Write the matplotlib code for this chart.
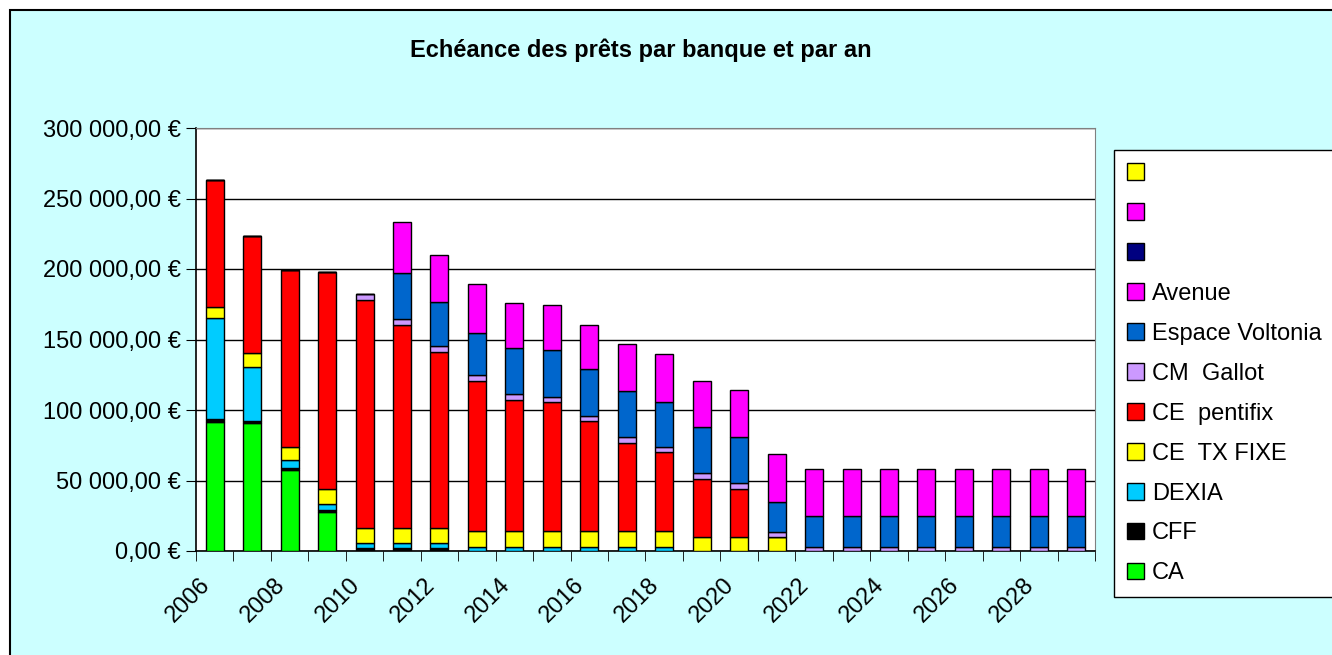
import matplotlib.pyplot as plt
import numpy as np
from matplotlib.patches import Patch, Rectangle
from matplotlib.ticker import FuncFormatter
from matplotlib.transforms import ScaledTranslation

plt.rcParams["font.family"] = ["Liberation Sans", "DejaVu Sans"]

years = list(range(2006, 2030))
year_labels = [str(y) if (y - 2006) % 2 == 0 else "" for y in years]

ca = [91250, 90500, 57400, 27400] + [0] * 20
cff = [2350, 1600, 1700, 1700, 1900, 1900, 1900] + [0] * 17
dexia = [71900, 38100, 5400, 4000, 3600, 4000, 4000, 3000, 3000, 3000,
         3000, 3000, 3000] + [0] * 11
ce_tx_fixe = [7400, 9900, 9500, 10900, 11000, 10600, 10600, 11200, 11200, 11200,
              11000, 11000, 11000, 9700, 9700, 9700] + [0] * 8
ce_pentifix = [90300, 83200, 125300, 153600, 161500, 143800, 124600, 106400,
               92900, 91200, 78000, 62600, 56000, 41300, 34300] + [0] * 9
cm_gallot = [0, 0, 0, 0, 4300, 4000, 4300, 4200, 4000, 4000, 4000, 4200,
             4000, 4100, 4000, 4000] + [3000] * 8
espace_voltonia = [0] * 5 + [32900, 31400, 30000, 32600, 33100, 32900, 32900,
                             31500, 32600, 32800, 20800] + [21800] * 8
avenue = [0] * 5 + [35900, 32900, 34300, 32000, 31700, 31400, 32900, 34400,
                    32900, 33200, 34100] + [33400] * 8

series = [
    ("CA", ca, "#00FF00"),
    ("CFF", cff, "#000000"),
    ("DEXIA", dexia, "#00CCFF"),
    ("CE  TX FIXE", ce_tx_fixe, "#FFFF00"),
    ("CE  pentifix", ce_pentifix, "#FF0000"),
    ("CM  Gallot", cm_gallot, "#CC99FF"),
    ("Espace Voltonia", espace_voltonia, "#0066CC"),
    ("Avenue", avenue, "#FF00FF"),
]
# empty series shown only in the legend
blank_colors = ["#000080", "#FF00FF", "#FFFF00"]

FS = 17


def euro(v, _pos):
    s = f"{v:,.2f}".replace(",", " ").replace(".", ",")
    return s + " €"


fig = plt.figure(figsize=(13.32, 6.55), dpi=100)
fig.patch.set_facecolor("white")
# chart area (cyan panel with black frame, running off the right/bottom edge)
fig.patches.append(Rectangle((10 / 1332, -0.1), 1.2, 1.1 - 10 / 655,
                             transform=fig.transFigure, facecolor="#CCFFFF",
                             edgecolor="black", lw=1.5, zorder=-10))

ax = fig.add_axes([196 / 1332, 104 / 655, 899 / 1332, 423 / 655])
ax.set_facecolor("white")

x = np.arange(len(years))
bottom = np.zeros(len(years))
handles = []
for name, vals, col in series:
    vals = np.array(vals, dtype=float)
    ax.bar(x, vals, 0.48, bottom=bottom, color=col, edgecolor="black",
           linewidth=1, zorder=3)
    bottom += vals
    handles.append(Patch(facecolor=col, edgecolor="black", label=name))

ax.set_xlim(-0.5, len(years) - 0.5)
ax.set_ylim(0, 300000)
ax.set_yticks(np.arange(0, 300001, 50000))
ax.yaxis.set_major_formatter(FuncFormatter(euro))
ax.grid(axis="y", color="black", lw=1, zorder=0)
ax.tick_params(axis="y", direction="out", length=7, labelsize=FS, pad=4)

ax.set_xticks(x[::2], year_labels[::2])
ax.set_xticks(np.arange(-0.5, len(years), 1), minor=True)
ax.tick_params(axis="x", which="major", length=0, labelsize=FS, pad=22)
ax.tick_params(axis="x", which="minor", length=7, direction="out")
shift = ScaledTranslation(-8 / 100, 0, fig.dpi_scale_trans)
for lbl in ax.get_xticklabels():
    lbl.set_rotation(45)
    lbl.set_ha("right")
    lbl.set_va("center")
    lbl.set_rotation_mode("anchor")
    lbl.set_transform(lbl.get_transform() + shift)

for side in ["left", "bottom"]:
    ax.spines[side].set_color("black")
    ax.spines[side].set_linewidth(1.2)
ax.spines["right"].set_color("#808080")
ax.spines["top"].set_color("#808080")

fig.text(641 / 1332, 1 - 50 / 655, "Echéance des prêts par banque et par an",
         ha="center", va="center", fontsize=FS, fontweight="bold")

leg_handles = [Patch(facecolor=c, edgecolor="black") for c in blank_colors[::-1]]
leg_handles += handles[::-1]
leg_labels = [""] * 3 + [h.get_label() for h in handles[::-1]]
leg = fig.legend(leg_handles, leg_labels, loc="upper left",
                 bbox_to_anchor=(1114 / 1332, 1 - 150 / 655),
                 frameon=True, fancybox=False, edgecolor="black",
                 facecolor="white", framealpha=1,
                 fontsize=FS, handlelength=0.7, handleheight=0.7,
                 handletextpad=0.35, labelspacing=0.76, borderpad=0.55,
                 borderaxespad=0)
leg.get_frame().set_linewidth(1)

fig.savefig("out.png", dpi=100)
